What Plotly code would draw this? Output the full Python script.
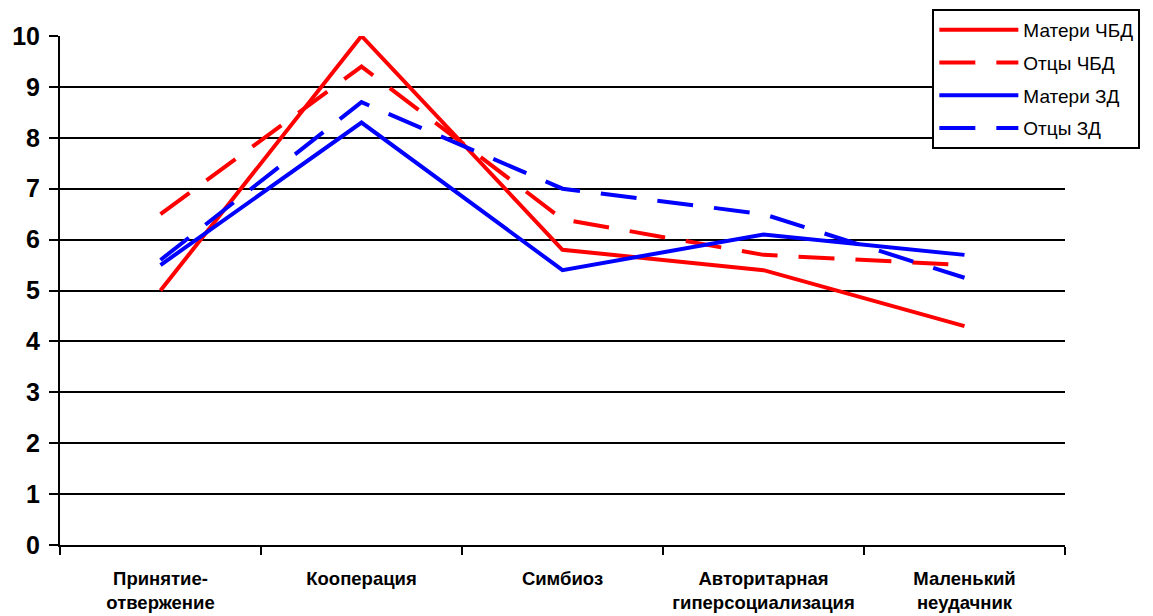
import plotly.graph_objects as go

categories = ["Принятие-<br>отвержение", "Кооперация", "Симбиоз",
              "Авторитарная<br>гиперсоциализация", "Маленький<br>неудачник"]

mothers_chbd = [5.0, 10.0, 5.8, 5.4, 4.3]
fathers_chbd = [6.5, 9.4, 6.4, 5.7, 5.5]
mothers_zd = [5.5, 8.3, 5.4, 6.1, 5.7]
fathers_zd = [5.6, 8.7, 7.0, 6.5, 5.25]

series = [
    ("Матери ЧБД", mothers_chbd, "#ff0000", "solid"),
    ("Отцы ЧБД", fathers_chbd, "#ff0000", "36px,21px"),
    ("Матери ЗД", mothers_zd, "#0000ff", "solid"),
    ("Отцы ЗД", fathers_zd, "#0000ff", "36px,21px"),
]

FONT = "Arial, Liberation Sans, sans-serif"

fig = go.Figure()
for name, vals, color, dash in series:
    fig.add_trace(go.Scatter(
        x=categories, y=vals, name=name, mode="lines", legendgroup=name,
        line=dict(color=color, width=4, dash=dash),
    ))

fig.update_layout(
    width=1153, height=616,
    margin=dict(l=60, r=88, t=36, b=71, autoexpand=False),
    paper_bgcolor="white", plot_bgcolor="white",
    font=dict(family=FONT, color="black"),
    showlegend=True,
    legend=dict(
        x=0.868, y=1.053, xanchor="left", yanchor="top",
        bgcolor="white", bordercolor="black", borderwidth=2,
        font=dict(size=19, color="black", family=FONT),
        itemwidth=79, tracegroupgap=5,
    ),
)

fig.update_xaxes(
    type="category", tickson="boundaries", range=[-0.5, 4.5],
    ticks="outside", ticklen=8, tickwidth=2, tickcolor="black",
    showline=True, linecolor="black", linewidth=2,
    showgrid=False, zeroline=False, automargin=False,
    tickfont=dict(size=18.5, family=FONT, color="black", weight="bold"),
    ticklabelstandoff=16,
)

fig.update_yaxes(
    range=[0, 10], dtick=1, tick0=0,
    ticks="outside", ticklen=9, tickwidth=2, tickcolor="black",
    showline=True, linecolor="black", linewidth=2,
    showgrid=True, gridcolor="black", gridwidth=2,
    zeroline=False, automargin=False,
    tickfont=dict(size=25, family=FONT, color="black", weight="bold"),
    ticklabelstandoff=4,
)

fig.write_html("out.html")
